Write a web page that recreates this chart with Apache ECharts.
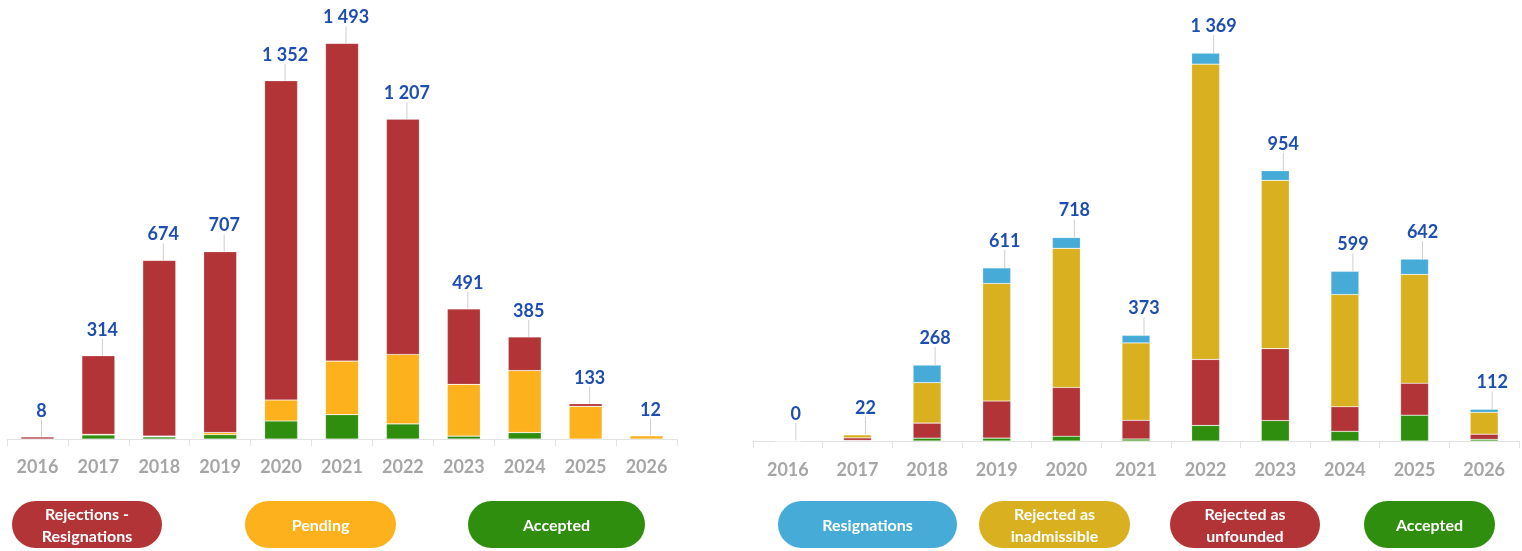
<!DOCTYPE html>
<html>
<head>
<meta charset="utf-8">
<title>Complaints by year</title>
<script src="https://cdn.jsdelivr.net/npm/echarts@6/dist/echarts.min.js"></script>
<style>
  html, body { margin: 0; padding: 0; background: #ffffff; }
  #chart { width: 1522px; height: 551px; }
</style>
</head>
<body>
<div id="chart"></div>
<script>
// ---- Data ----
const years = ['2016', '2017', '2018', '2019', '2020', '2021', '2022', '2023', '2024', '2025', '2026'];

// Left panel: outcome of complaints
const leftAccepted = [0, 15, 8, 16, 68, 92, 57, 11, 24, 0, 0];
const leftPending  = [0, 3, 3, 8, 79, 202, 262, 195, 234, 123, 12];
const leftRejected = [8, 296, 663, 683, 1205, 1199, 888, 285, 127, 10, 0];

// Right panel: detailed outcome
const rightAccepted     = [0, 2, 10, 10, 17, 7, 55, 72, 34, 91, 6];
const rightUnfounded    = [0, 9, 53, 131, 172, 66, 233, 254, 87, 113, 18];
const rightInadmissible = [0, 11, 143, 415, 491, 273, 1042, 594, 396, 384, 77];
const rightResignations = [0, 0, 62, 55, 38, 27, 39, 34, 82, 54, 11];

const leftNames  = ['Rejections -\nResignations', 'Pending', 'Accepted'];
const rightNames = ['Resignations', 'Rejected as\ninadmissible', 'Rejected as\nunfounded', 'Accepted'];

// ---- Styling ----
const C = {
  red: '#b23437',
  orange: '#fdb11c',
  green: '#2f8e0e',
  blue: '#46acd7',
  gold: '#d9b01f',
  label: '#1f4eb2',
  axis: '#a6a6a6',
  line: '#e3e3e3'
};
const FONT = 'Lato, "Open Sans", sans-serif';

const sumArrays = (...arrs) => arrs[0].map((_, i) => arrs.reduce((s, a) => s + a[i], 0));
const fmt = n => String(n).replace(/\B(?=(\d{3})+(?!\d))/g, ' ');

const leftTotals  = sumArrays(leftAccepted, leftPending, leftRejected);
const rightTotals = sumArrays(rightAccepted, rightUnfounded, rightInadmissible, rightResignations);

function segment(name, data, color, axisIndex, stack, barWidth) {
  return {
    type: 'bar', name, data, stack,
    xAxisIndex: axisIndex, yAxisIndex: axisIndex,
    barWidth,
    itemStyle: { color, borderColor: 'rgba(255,255,255,0.35)', borderWidth: 0.6 },
    silent: true
  };
}

// zero-height bar on top of each stack carrying the total label + leader line
function totalLabels(totals, axisIndex, stack, barWidth, dx, dy) {
  return {
    type: 'bar', name: 'total', stack,
    xAxisIndex: axisIndex, yAxisIndex: axisIndex,
    barWidth,
    data: totals.map(() => 0),
    itemStyle: { color: 'rgba(0,0,0,0)' },
    silent: true,
    label: {
      show: true,
      position: 'top',
      distance: 5,
      formatter: p => fmt(totals[p.dataIndex]),
      color: C.label,
      fontFamily: FONT,
      fontWeight: 'bold',
      fontSize: 18
    },
    labelLine: { show: true, lineStyle: { color: '#cfcfcf', width: 1 } },
    labelLayout: { dx, dy }
  };
}

function catAxis(gridIndex, margin) {
  return {
    type: 'category', gridIndex, data: years,
    boundaryGap: true,
    axisLine: { show: true, lineStyle: { color: C.line, width: 1 } },
    axisTick: { show: true, alignWithLabel: false, length: 7, lineStyle: { color: C.line } },
    axisLabel: { color: C.axis, fontFamily: FONT, fontWeight: 'bold', fontSize: 18, margin }
  };
}

function valAxis(gridIndex, max) {
  return { type: 'value', gridIndex, min: 0, max, show: false, splitLine: { show: false } };
}

// Pill-shaped legend keys
function pill(x, y, w, h, color, text) {
  return {
    type: 'group', x, y,
    children: [
      { type: 'rect', shape: { x: 0, y: 0, width: w, height: h, r: h / 2 }, style: { fill: color } },
      {
        type: 'text', x: w / 2, y: h / 2 + 1,
        style: {
          text, fill: '#ffffff', fontFamily: FONT, fontWeight: 'bold', fontSize: 16,
          lineHeight: 22, align: 'center', verticalAlign: 'middle'
        }
      }
    ]
  };
}

const option = {
  animation: false,
  backgroundColor: '#ffffff',
  grid: [
    { left: 7, top: 15, width: 670, height: 424 },
    { left: 753, top: 16, width: 766, height: 425 }
  ],
  xAxis: [catAxis(0, 19), catAxis(1, 20)],
  yAxis: [valAxis(0, 1600), valAxis(1, 1500)],
  series: [
    segment(leftNames[2], leftAccepted, C.green, 0, 'L', 33),
    segment(leftNames[1], leftPending, C.orange, 0, 'L', 33),
    segment(leftNames[0], leftRejected, C.red, 0, 'L', 33),
    totalLabels(leftTotals, 0, 'L', 33, 4, -12),

    segment(rightNames[3], rightAccepted, C.green, 1, 'R', 28),
    segment(rightNames[2], rightUnfounded, C.red, 1, 'R', 28),
    segment(rightNames[1], rightInadmissible, C.gold, 1, 'R', 28),
    segment(rightNames[0], rightResignations, C.blue, 1, 'R', 28),
    totalLabels(rightTotals, 1, 'R', 28, 8, -13)
  ],
  graphic: [
    pill(12, 501, 150, 47, C.red, leftNames[0]),
    pill(245, 501, 151, 47, C.orange, leftNames[1]),
    pill(468, 501, 177, 47, C.green, leftNames[2]),
    pill(778, 501, 179, 47, C.blue, rightNames[0]),
    pill(979, 501, 151, 47, C.gold, rightNames[1]),
    pill(1170, 501, 150, 47, C.red, rightNames[2]),
    pill(1364, 501, 131, 47, C.green, rightNames[3])
  ]
};

const chart = echarts.init(document.getElementById('chart'), null, { renderer: 'canvas' });
chart.setOption(option);
</script>
</body>
</html>
